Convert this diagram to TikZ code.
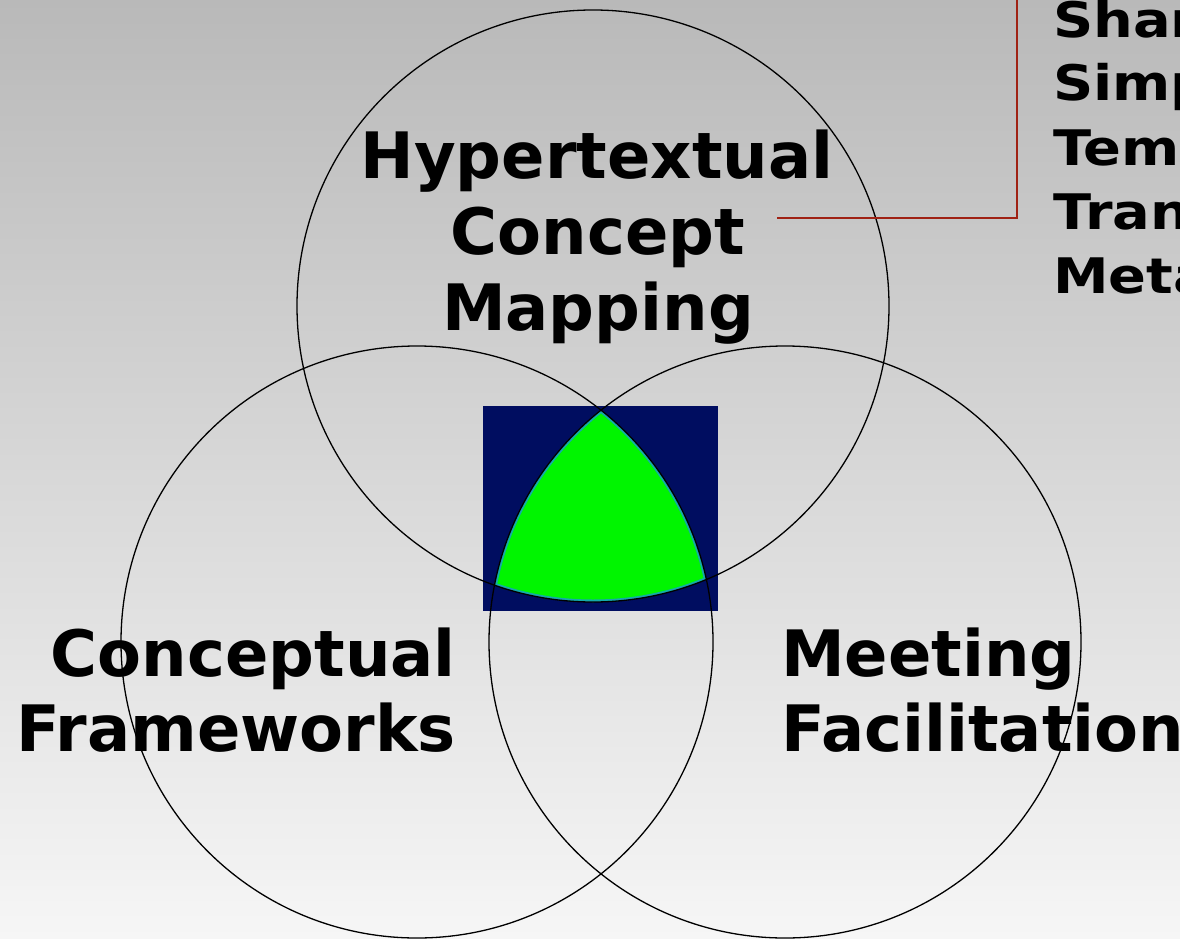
\documentclass[tikz,border=0pt]{standalone}
\usepackage{fontspec}
\setmainfont{DejaVu Sans}
\newfontfamily\listfont[FakeStretch=1.14]{DejaVu Sans}
\definecolor{bgtop}{RGB}{185,185,185}
\definecolor{bgbot}{RGB}{246,246,246}
\definecolor{navybox}{RGB}{0,13,96}
\definecolor{brightgreen}{RGB}{0,245,0}
\definecolor{greenedge}{RGB}{20,170,170}
\definecolor{leadred}{RGB}{160,34,20}
\begin{document}
\begin{tikzpicture}[x=1pt,y=-1pt,
  venn/.style={circle,draw=black,line width=1.3pt,minimum size=592pt,inner sep=0pt},
  bigtext/.style={font=\bfseries\fontsize{64}{76}\selectfont,inner sep=0pt},
  listtext/.style={font=\listfont\bfseries\fontsize{49}{64}\selectfont,inner sep=0pt,anchor=base west},
  leader/.style={draw=leadred,line width=2pt}]
\useasboundingbox (0,0) rectangle (1180,939);
\shade[top color=bgtop,bottom color=bgbot] (0,0) rectangle (1180,939);
\node[fill=navybox,minimum width=235pt,minimum height=205pt,inner sep=0pt] (box) at (600.5,508.8) {};
\begin{scope}
  \clip (593,306) circle[radius=296pt];
  \clip (417,642) circle[radius=296pt];
  \clip (785,642) circle[radius=296pt];
  \fill[brightgreen] (400,350) rectangle (800,650);
  \draw[greenedge,line width=5pt] (593,306) circle[radius=296pt];
  \draw[greenedge,line width=5pt] (417,642) circle[radius=296pt];
  \draw[greenedge,line width=5pt] (785,642) circle[radius=296pt];
\end{scope}
\node[venn] (ctop) at (593,306) {};
\node[venn] (cleft) at (417,642) {};
\node[venn] (cright) at (785,642) {};
\node[bigtext,anchor=base] (h1) at (597,178) {Hypertextual};
\node[bigtext,anchor=base] (h2) at (598,254) {Concept};
\node[bigtext,anchor=base] (h3) at (598,330) {Mapping};
\node[bigtext,anchor=base east] (c1) at (456,676) {Conceptual};
\node[bigtext,anchor=base east] (c2) at (456,751) {Frameworks};
\node[bigtext,anchor=base west] (m1) at (781,676) {Meeting};
\node[bigtext,anchor=base west] (m2) at (781,751) {Facilitation};
\node[listtext] (l1) at (1053,38) {Shar};
\node[listtext] (l2) at (1053,101) {Simp};
\node[listtext] (l3) at (1053,165) {Tem};
\node[listtext] (l4) at (1053,229) {Tran};
\node[listtext] (l5) at (1053,293) {Meta};
\coordinate (ls) at (777,218);
\coordinate (le) at (1017,-5);
\draw[leader] (ls) -| (le);
\end{tikzpicture}
\end{document}
